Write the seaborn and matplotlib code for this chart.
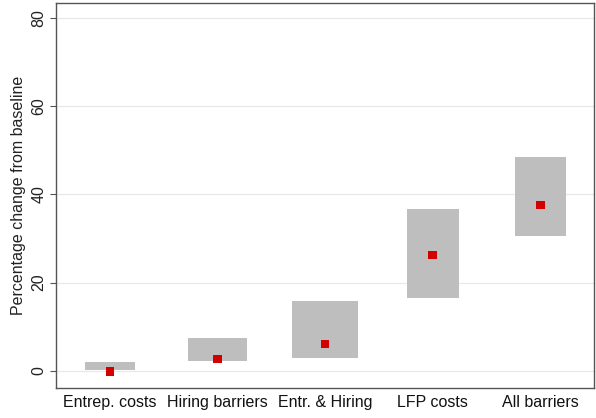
import matplotlib
matplotlib.use("Agg")
import matplotlib.pyplot as plt
import seaborn as sns
import numpy as np
import pandas as pd

categories = ["Entrep. costs", "Hiring barriers", "Entr. & Hiring", "LFP costs", "All barriers"]
low_values = [0.2, 2.3, 2.9, 16.5, 30.6]
high_values = [2.0, 7.5, 15.9, 36.7, 48.5]
point_values = [-0.1, 2.7, 6.1, 26.3, 37.6]
y_ticks = [0, 20, 40, 60, 80]

bar_widths = [0.47, 0.55, 0.61, 0.48, 0.48]

sns.set_theme(style="white")
plt.rcParams['font.family'] = ['Liberation Sans', 'DejaVu Sans']

df = pd.DataFrame({"cat": categories, "low": low_values, "high": high_values,
                   "point": point_values})
df["span"] = df["high"] - df["low"]

fig = plt.figure(figsize=(5.96, 4.18), dpi=100)
ax = fig.add_axes([0.094, 0.072, 0.903, 0.921])

for t in y_ticks:
    ax.axhline(t, color="#e8e8e8", lw=0.9, zorder=0)

sns.barplot(data=df, x="cat", y="span", color="#bebebe", saturation=1,
            width=0.5, ax=ax, zorder=2)
for p, lo, w in zip(ax.patches, df["low"], bar_widths):
    cx = p.get_x() + p.get_width() / 2
    p.set_y(lo)
    p.set_width(w)
    p.set_x(cx - w / 2)
    p.set_linewidth(0)

sns.scatterplot(data=df, x="cat", y="point", marker="s", color="#d40000",
                s=38, edgecolor="none", ax=ax, zorder=3)

ax.set_xlim(-0.5, 4.5)
ax.set_ylim(-3.85, 83.4)
ax.set_yticks(y_ticks)
ax.set_yticklabels([str(t) for t in y_ticks], rotation=90, va="center")
ax.set_xlabel("")
ax.set_ylabel("Percentage change from baseline", fontsize=11.5, color="#222222", labelpad=4)
ax.tick_params(axis="y", left=True, length=4, width=0.8, color="#555555",
               labelsize=11.5, labelcolor="#222222", pad=3)
ax.tick_params(axis="x", bottom=False, length=0, labelsize=11.5, labelcolor="#111111", pad=5)
for s in ax.spines.values():
    s.set_color("#555555")
    s.set_linewidth(1.0)

fig.savefig("out.png", dpi=100)
